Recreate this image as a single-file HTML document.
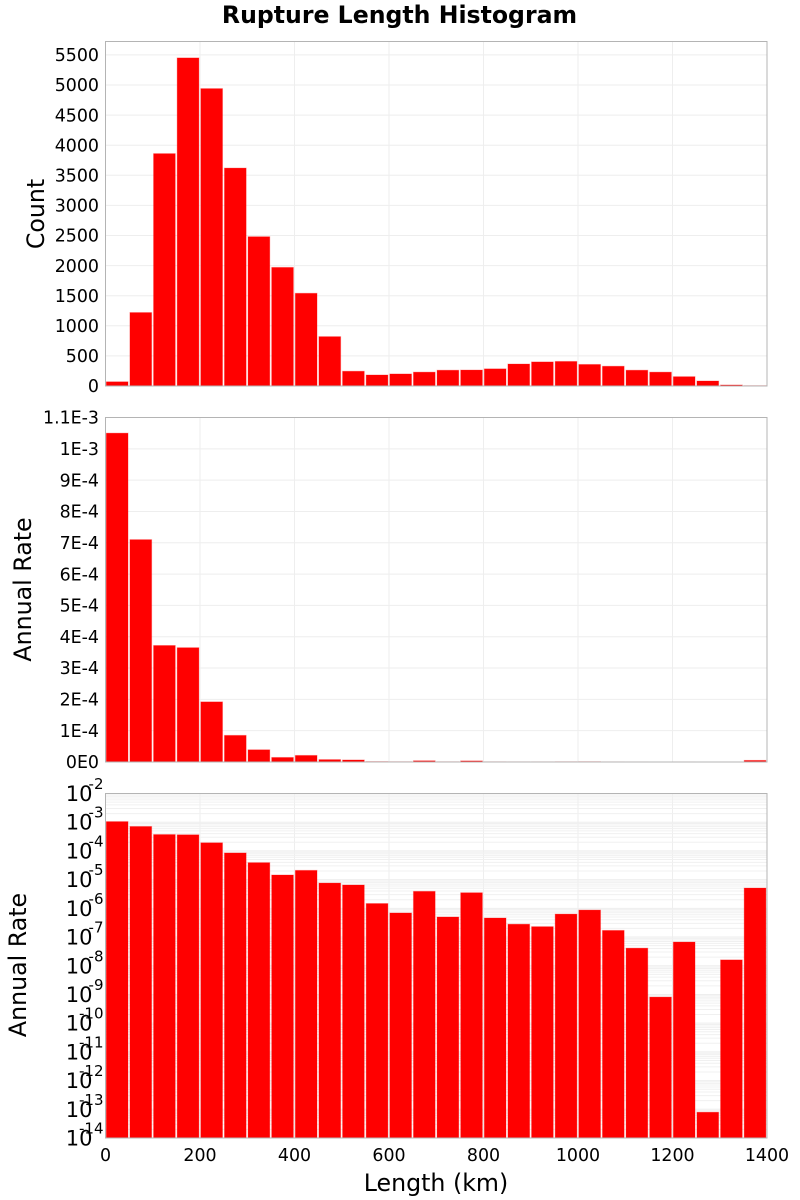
<!DOCTYPE html>
<html>
<head>
<meta charset="utf-8">
<title>Rupture Length Histogram</title>
<style>
html,body{margin:0;padding:0;background:#fff;width:800px;height:1200px;overflow:hidden}
svg{display:block}
text{font-family:"DejaVu Sans","Liberation Sans",sans-serif;fill:#000}
</style>
</head>
<body>
<svg id="chart" xmlns="http://www.w3.org/2000/svg" width="800" height="1200" viewBox="0 0 800 1200">
<text x="399.5" y="23" text-anchor="middle" font-size="23.6" font-weight="bold">Rupture Length Histogram</text>
<text x="0" y="0" transform="translate(44 214) rotate(-90)" text-anchor="middle" font-size="23.7">Count</text>
<text x="0" y="0" transform="translate(31 589.5) rotate(-90)" text-anchor="middle" font-size="23.7">Annual Rate</text>
<text x="0" y="0" transform="translate(26 965) rotate(-90)" text-anchor="middle" font-size="23.7">Annual Rate</text>
<text x="436" y="1191" text-anchor="middle" font-size="23.7">Length (km)</text>
</svg>
<script>
var binWidth = 50;
var counts = [70,1220,3860,5450,4940,3620,2480,1970,1540,820,245,183,200,230,262,265,285,365,400,408,358,328,262,230,155,83,17,5];
var rates = [1.05e-3,7.1e-4,3.72e-4,3.65e-4,1.92e-4,8.5e-5,3.9e-5,1.45e-5,2.1e-5,7.6e-6,6.5e-6,1.47e-6,6.9e-7,3.9e-6,5e-7,3.5e-6,4.6e-7,2.8e-7,2.3e-7,6.3e-7,8.7e-7,1.7e-7,4.1e-8,8.1e-10,6.7e-8,7.9e-14,1.6e-8,5.1e-6];
var xTicks = [0,200,400,600,800,1000,1200,1400];
var countTicks = [0,500,1000,1500,2000,2500,3000,3500,4000,4500,5000,5500];
var rateTicks = [0,1e-4,2e-4,3e-4,4e-4,5e-4,6e-4,7e-4,8e-4,9e-4,1e-3,1.1e-3];
var rateTickLabels = ['0E0','1E-4','2E-4','3E-4','4E-4','5E-4','6E-4','7E-4','8E-4','9E-4','1E-3','1.1E-3'];
var logExponents = [-2,-3,-4,-5,-6,-7,-8,-9,-10,-11,-12,-13,-14];

var svg = document.getElementById('chart');
var NS = 'http://www.w3.org/2000/svg';
var left = 105.5, right = 767;
function X(v){ return left + (v / 1400) * (right - left); }
function Ycount(v){ return 386 - (v / 500) * 30.1; }
function Yrate(v){ return 762 - (v / 1.1e-3) * 344.5; }
function Ylog(v){ return 793.5 + (-2 - Math.log10(v)) * (344.5 / 12); }

function make(tag, attrs, text){
  var el = document.createElementNS(NS, tag);
  for (var k in attrs) el.setAttribute(k, attrs[k]);
  if (text !== undefined) el.textContent = text;
  svg.appendChild(el);
  return el;
}
function vGrid(top, bottom){
  xTicks.forEach(function(t){
    if (t === 0 || t === 1400) return;
    var el = make('line', {x1:X(t), x2:X(t), y1:top, y2:bottom, stroke:'#eeeeee', 'stroke-width':1});
    
    
  });
}
function hGrid(y, color){
  var el = make('line', {x1:left, x2:right, y1:y, y2:y, stroke:color, 'stroke-width':1});
  
  
}
function bar(i, top, bottom){
  var x0 = X(i * binWidth) + 0.8;
  var x1 = X((i + 1) * binWidth) - 1.1;
  var el = make('rect', {x:x0, y:top, width:x1 - x0, height:Math.max(0, bottom - top), fill:'#ff0000', stroke:'#ff0000', 'stroke-opacity':0.28, 'stroke-width':1});
  
  
}
function frame(top, bottom){
  var el = make('rect', {x:left, y:top, width:right - left, height:bottom - top, fill:'none', stroke:'#b4b4b4', 'stroke-width':1});
  
  
}
function yLabel(y, text){
  var el = make('text', {x:99, y:y + 6.2, 'text-anchor':'end', 'font-size':17.4}, text);
  
  
}

/* Panel 1: counts */
vGrid(41.5, 386);
countTicks.forEach(function(t){
  if (t > 0) hGrid(Ycount(t), '#eeeeee');
  yLabel(Ycount(t), String(t));
});
counts.forEach(function(v, i){ bar(i, Ycount(v), 386); });
frame(41.5, 386);

/* Panel 2: linear rate */
vGrid(417.5, 762);
rateTicks.forEach(function(t, i){
  if (t > 0 && i < rateTicks.length - 1) hGrid(Yrate(t), '#eeeeee');
  yLabel(Yrate(t), rateTickLabels[i]);
});
rates.forEach(function(v, i){ bar(i, Yrate(v), 762); });
frame(417.5, 762);

/* Panel 3: log rate */
vGrid(793.5, 1138);
logExponents.forEach(function(e, idx){
  var base = Math.pow(10, e);
  var y = Ylog(base);
  if (idx > 0 && idx < logExponents.length - 1) hGrid(y, '#eeeeee');
  if (idx < logExponents.length - 1) {
    for (var m = 2; m <= 9; m++) hGrid(Ylog(m * base / 10), '#f0f0f0');
  }
  var base10 = make('text', {x:92.5, y:y + 7.5, 'text-anchor':'end', 'font-size':21}, '10');
  
  
  var sup = make('text', {x:103.5, y:y - 4.5, 'text-anchor':'end', 'font-size':15}, String(e));
  
  
});
rates.forEach(function(v, i){ bar(i, Ylog(v), 1138); });
frame(793.5, 1138);

/* Shared x axis labels */
xTicks.forEach(function(t){
  var el = make('text', {x:X(t), y:1161, 'text-anchor':'middle', 'font-size':17.4}, String(t));
  
  
});
</script>
</body>
</html>
